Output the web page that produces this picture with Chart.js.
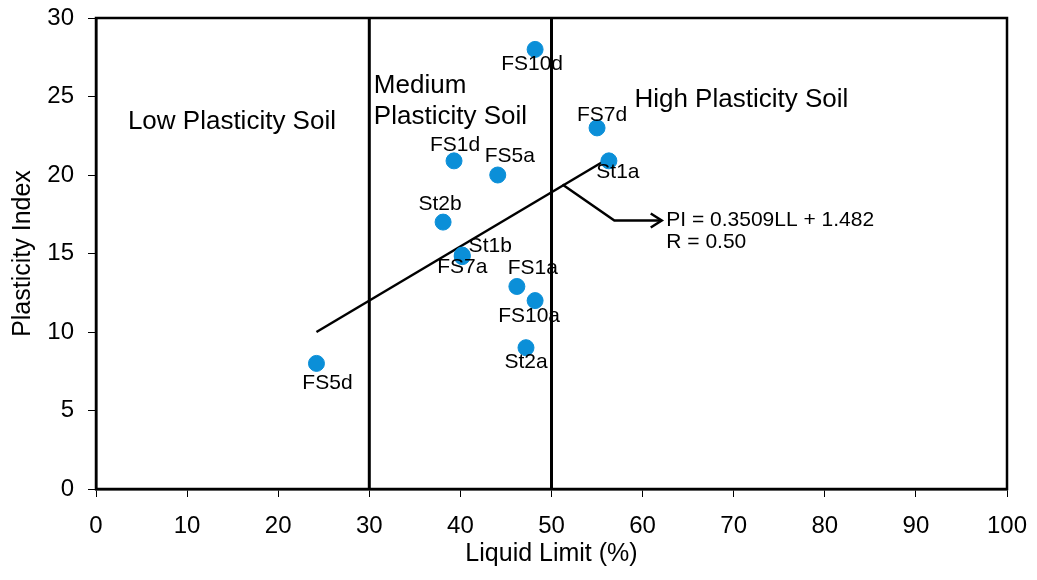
<!DOCTYPE html>
<html>
<head>
<meta charset="utf-8">
<script src="https://cdn.jsdelivr.net/npm/chart.js@4/dist/chart.umd.min.js"></script>
<style>
  html, body { margin: 0; padding: 0; background: #fff; }
  #wrap { width: 1037px; height: 580px; }
</style>
</head>
<body>
<div id="wrap"><canvas id="myChart" width="1037" height="580"></canvas></div>
<script>
// 시료 이름과 값 (LL, PI)
const samples = ['FS10d', 'FS7d', 'St1a', 'FS1d', 'FS5a', 'St2b', 'St1b', 'FS7a', 'FS1a', 'FS10a', 'St2a', 'FS5d'];
const liquidLimit = [48.2, 55.0, 56.3, 39.3, 44.1, 38.1, 40.2, 40.2, 46.2, 48.2, 47.2, 24.2];
const plasticityIndex = [28.0, 23.0, 20.9, 20.9, 20.0, 17.0, 14.9, 14.8, 12.9, 12.0, 9.0, 8.0];

// 라벨 위치 (점 중심 기준 픽셀 오프셋)
const labelDx = [-3, 5, 9, 1, 12, -3, 28, 0, 16, -6, 0, 11];
const labelDy = [15, -13, 11, -16, -19, -18, -9, 11, -18, 16, 15, 20];

// 구분선과 추세선
const boundaryLL = [30, 50];
const trendX = [24.2, 56.1];
const trendY = [10.0, 21.0];
const leaderX = [51.2, 56.9, 62.1];
const leaderY = [19.4, 17.1, 17.1];

// 눈금
const xTicks = [0, 10, 20, 30, 40, 50, 60, 70, 80, 90, 100];
const yTicks = [0, 5, 10, 15, 20, 25, 30];

// 글 상자
const notes = [
  { text: 'Low Plasticity Soil', x: 3.5, y: 23.4, size: 26 },
  { text: 'Medium', x: 30.5, y: 25.7, size: 26 },
  { text: 'Plasticity Soil', x: 30.5, y: 23.7, size: 26 },
  { text: 'High Plasticity Soil', x: 59.1, y: 24.8, size: 26 },
  { text: 'PI = 0.3509LL + 1.482', x: 62.6, y: 17.15, size: 21 },
  { text: 'R = 0.50', x: 62.6, y: 15.7, size: 21 }
];

const FONT = '"Liberation Sans", Arial, sans-serif';
Chart.defaults.font.family = FONT;
Chart.defaults.color = '#000';

const extras = {
  id: 'extras',
  afterDatasetsDraw(chart) {
    const c = chart.ctx, a = chart.chartArea;
    const xs = chart.scales.x, ys = chart.scales.y;
    c.save();
    // 위, 오른쪽 테두리
    c.strokeStyle = '#000';
    c.lineWidth = 2.5;
    c.strokeRect(a.left, a.top, a.right - a.left, a.bottom - a.top);

    // 화살촉
    const n = leaderX.length - 1;
    const tx = xs.getPixelForValue(leaderX[n]), ty = ys.getPixelForValue(leaderY[n]);
    c.lineWidth = 2.5;
    c.beginPath();
    c.moveTo(tx - 11, ty - 7);
    c.lineTo(tx, ty);
    c.lineTo(tx - 11, ty + 7);
    c.stroke();

    // 점 라벨
    c.fillStyle = '#000';
    c.textAlign = 'center';
    c.textBaseline = 'middle';
    c.font = '21px ' + FONT;
    samples.forEach((s, i) => {
      const px = xs.getPixelForValue(liquidLimit[i]);
      const py = ys.getPixelForValue(plasticityIndex[i]);
      c.fillText(s, px + labelDx[i], py + labelDy[i]);
    });

    // 글 상자
    c.textAlign = 'left';
    notes.forEach(nt => {
      c.font = nt.size + 'px ' + FONT;
      c.fillText(nt.text, xs.getPixelForValue(nt.x), ys.getPixelForValue(nt.y));
    });
    c.restore();
  }
};

const lineSet = (xsArr, ysArr, w) => ({
  type: 'scatter',
  data: xsArr.map((v, i) => ({ x: v, y: ysArr[i] })),
  showLine: true,
  borderColor: '#000',
  borderWidth: w,
  pointRadius: 0,
  fill: false,
  order: 2
});

const ctx = document.getElementById('myChart');
const myChart = new Chart(ctx, {
  type: 'scatter',
  data: {
    datasets: [
      {
        label: 'Samples',
        data: samples.map((s, i) => ({ x: liquidLimit[i], y: plasticityIndex[i] })),
        backgroundColor: '#0B8FD8',
        borderColor: '#0B8FD8',
        pointRadius: 8,
        order: 1
      },
      lineSet([boundaryLL[0], boundaryLL[0]], [0, 30], 3),
      lineSet([boundaryLL[1], boundaryLL[1]], [0, 30], 3),
      lineSet(trendX, trendY, 2.5),
      lineSet(leaderX, leaderY, 2.5)
    ]
  },
  options: {
    responsive: false,
    animation: false,
    events: [],
    layout: { padding: { left: 0, right: 30, top: 18, bottom: 0 } },
    plugins: { legend: { display: false }, tooltip: { enabled: false } },
    scales: {
      x: {
        type: 'linear',
        min: 0, max: 100,
        afterFit: s => { s.height = 91; s.paddingLeft = 0; s.paddingRight = 0; },
        afterBuildTicks: s => { s.ticks = xTicks.map(v => ({ value: v })); },
        grid: { drawOnChartArea: false, drawTicks: true, tickLength: 8, color: '#000', lineWidth: 1 },
        border: { display: true, color: '#000', width: 2.5 },
        ticks: { font: { size: 24 }, padding: 15, maxRotation: 0 },
        title: { display: true, text: 'Liquid Limit (%)', font: { size: 25 }, padding: { top: 0, bottom: 11 } }
      },
      y: {
        type: 'linear',
        min: 0, max: 30,
        afterFit: s => { s.width = 96; s.paddingTop = 0; s.paddingBottom = 0; },
        afterBuildTicks: s => { s.ticks = yTicks.map(v => ({ value: v })); },
        grid: { drawOnChartArea: false, drawTicks: true, tickLength: 8, color: '#000', lineWidth: 1 },
        border: { display: true, color: '#000', width: 2.5 },
        ticks: { font: { size: 24 }, padding: 14 },
        title: { display: true, text: 'Plasticity Index', font: { size: 25 }, padding: { top: 8, bottom: 0 } }
      }
    }
  },
  plugins: [extras]
});
</script>
</body>
</html>
